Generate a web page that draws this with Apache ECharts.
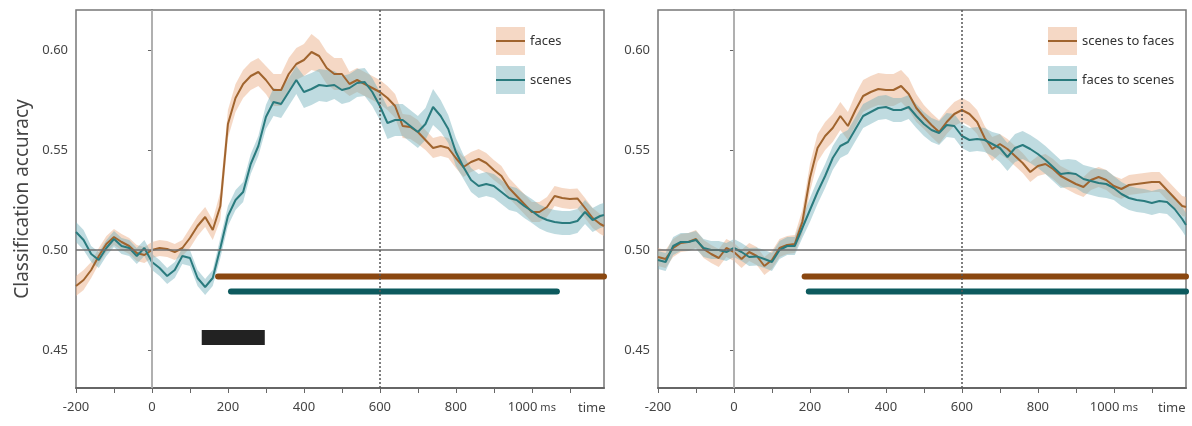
<!DOCTYPE html>
<html>
<head>
<meta charset="utf-8">
<script src="https://cdn.jsdelivr.net/npm/echarts@6/dist/echarts.min.js"></script>
<style>
  html, body { margin: 0; padding: 0; background: #fff; }
  #chart { width: 1192px; height: 426px; }
</style>
</head>
<body>
<div id="chart"></div>
<script>
// time points (ms)
var times = [
  -200, -180, -160, -140, -120, -100, -80, -60, -40, -20,
  0, 20, 40, 60, 80, 100, 120, 140, 160, 180,
  200, 220, 240, 260, 280, 300, 320, 340, 360, 380,
  400, 420, 440, 460, 480, 500, 520, 540, 560, 580,
  600, 620, 640, 660, 680, 700, 720, 740, 760, 780,
  800, 820, 840, 860, 880, 900, 920, 940, 960, 980,
  1000, 1020, 1040, 1060, 1080, 1100, 1120, 1140, 1160, 1180,
  1190
];

// left panel: faces / scenes
var facesMean = [
  .482, .485, .490, .497, .503, .5065, .504, .502, .4985, .4975,
  .500, .501, .5005, .499, .501, .506, .512, .5165, .510, .522,
  .563, .576, .583, .587, .589, .585, .580, .580, .588, .593,
  .595, .599, .597, .591, .588, .588, .583, .585, .583, .581,
  .579, .576, .572, .562, .5615, .559, .555, .551, .552, .551,
  .546, .5415, .544, .5455, .5435, .540, .537, .531, .527, .523,
  .519, .519, .5215, .527, .526, .5255, .5258, .521, .516, .513,
  .512
];
var facesSem = [
  .005, .005, .004, .004, .004, .004, .004, .004, .004, .004,
  .004, .004, .004, .004, .004, .005, .005, .005, .005, .007,
  .007, .007, .007, .007, .007, .007, .008, .008, .008, .008,
  .008, .009, .008, .008, .008, .008, .006, .006, .006, .006,
  .006, .006, .006, .006, .006, .006, .005, .005, .005, .005,
  .005, .005, .005, .005, .005, .005, .005, .005, .005, .005,
  .005, .005, .005, .005, .005, .005, .005, .005, .005, .005,
  .005
];
var scenesMean = [
  .509, .505, .498, .495, .501, .5055, .502, .501, .497, .501,
  .494, .491, .487, .490, .497, .496, .486, .4815, .486, .501,
  .517, .525, .529, .543, .552, .5665, .574, .573, .579, .585,
  .579, .5805, .5825, .582, .5825, .580, .581, .5835, .584, .579,
  .572, .5635, .565, .565, .562, .559, .563, .5715, .567, .5605,
  .549, .5415, .535, .532, .533, .532, .529, .526, .525, .522,
  .5195, .5167, .515, .514, .5135, .5135, .5145, .519, .515, .517,
  .5175
];
var scenesSem = [
  .005, .005, .004, .004, .004, .004, .004, .004, .004, .004,
  .004, .004, .004, .004, .004, .004, .004, .004, .004, .005,
  .005, .005, .005, .005, .005, .006, .007, .007, .007, .007,
  .008, .008, .008, .008, .007, .007, .007, .007, .007, .007,
  .007, .008, .008, .008, .008, .008, .008, .009, .008, .007,
  .007, .006, .006, .006, .006, .006, .006, .006, .006, .006,
  .006, .006, .006, .006, .006, .006, .006, .006, .006, .006,
  .006
];

// right panel: scenes to faces / faces to scenes
var s2fMean = [
  .4965, .4955, .501, .5035, .504, .5055, .5005, .498, .496, .501,
  .499, .4955, .499, .497, .492, .495, .501, .5025, .503, .514,
  .536, .551, .557, .561, .567, .562, .570, .577, .579, .5805,
  .580, .580, .582, .578, .571, .5665, .5625, .559, .564, .568,
  .570, .568, .564, .556, .5505, .553, .5505, .547, .5435, .539,
  .542, .543, .5405, .537, .535, .533, .5315, .535, .5365, .535,
  .532, .5305, .5325, .533, .5335, .534, .534, .530, .526, .522,
  .5215
];
var s2fSem = [
  .0045, .0045, .0045, .0045, .0045, .0045, .0045, .0045, .0045, .0045,
  .0045, .0045, .0045, .0045, .0045, .0045, .0045, .0045, .0045, .006,
  .007, .007, .007, .007, .007, .007, .008, .008, .008, .008,
  .008, .008, .008, .008, .007, .006, .006, .006, .006, .006,
  .006, .006, .006, .006, .006, .005, .005, .005, .005, .005,
  .005, .005, .005, .005, .005, .005, .005, .005, .005, .005,
  .005, .005, .005, .005, .005, .005, .005, .005, .005, .005,
  .005
];
var f2sMean = [
  .495, .494, .502, .504, .504, .505, .501, .500, .500, .499,
  .501, .499, .4965, .4968, .4955, .494, .500, .502, .502, .511,
  .520, .529, .537, .546, .552, .554, .5605, .567, .569, .571,
  .5715, .570, .570, .5715, .567, .563, .560, .5585, .5625, .562,
  .557, .555, .5555, .555, .553, .551, .5465, .551, .5525, .5505,
  .548, .545, .5415, .538, .5385, .538, .5355, .5345, .5335, .533,
  .531, .528, .526, .525, .5245, .5235, .5245, .524, .5205, .5155,
  .5125
];
var f2sSem = [
  .0045, .0045, .0045, .0045, .0045, .0045, .0045, .0045, .0045, .0045,
  .0045, .0045, .0045, .0045, .0045, .0045, .0045, .0045, .0045, .005,
  .006, .006, .006, .006, .006, .006, .006, .006, .006, .006,
  .006, .006, .006, .006, .006, .006, .006, .006, .006, .006,
  .006, .006, .006, .006, .006, .007, .007, .007, .007, .007,
  .007, .007, .007, .007, .007, .007, .007, .007, .007, .007,
  .006, .006, .006, .006, .006, .006, .006, .006, .006, .006,
  .006
];

// significant clusters [start, end] in ms
var sigFaces = [174, 1190];
var sigScenes = [208, 1066];
var sigEarly = [131, 297];
var sigS2F = [186, 1190];
var sigF2S = [197, 1190];

// axis ticks
var yTicks = [0.45, 0.50, 0.55, 0.60];
var xTicks = [-200, -100, 0, 100, 200, 300, 400, 500, 600, 700, 800, 900, 1000, 1100];
var xLabels = [-200, 0, 200, 400, 600, 800, 1000];

var BROWN = '#a0642e', BROWN_BAND = 'rgba(236,178,140,0.5)', BROWN_BAR = '#8a4710';
var TEAL = '#2a7b7e', TEAL_BAND = 'rgba(112,176,186,0.45)', TEAL_BAR = '#0d5a5e';
var FONT = 'Noto Sans';
// legend line icon: thin bar in the middle of a 29x28 box (tiny corner points keep the box size)
var LINE_ICON = 'path://M0,0L0.01,0L0,0.01ZM0,13L29,13L29,15L0,15ZM29,28L28.99,28L29,27.99Z';

var chart = echarts.init(document.getElementById('chart'));

function band(g, name, mean, sem, color) {
  return {
    type: 'custom', name: name, xAxisIndex: g, yAxisIndex: g, z: 1, silent: true, clip: true,
    data: times.map(function (t, i) { return [t, mean[i] - sem[i], mean[i] + sem[i]]; }),
    encode: { x: 0, y: [1, 2] },
    renderItem: function (params, api) {
      if (params.dataIndex !== 0) return null;
      var pts = [];
      for (var i = 0; i < times.length; i++) pts.push(api.coord([times[i], mean[i] + sem[i]]));
      for (var j = times.length - 1; j >= 0; j--) pts.push(api.coord([times[j], mean[j] - sem[j]]));
      return { type: 'polygon', shape: { points: pts }, style: { fill: color } };
    }
  };
}

function meanLine(g, name, mean, color) {
  return {
    type: 'line', name: name, xAxisIndex: g, yAxisIndex: g, z: 3, symbol: 'none', silent: true,
    data: times.map(function (t, i) { return [t, mean[i]]; }),
    lineStyle: { color: color, width: 2 }, itemStyle: { color: color }
  };
}

function sigBar(g, range, level, color, width, cap) {
  return {
    type: 'line', xAxisIndex: g, yAxisIndex: g, z: 4, symbol: 'none', silent: true,
    data: [[range[0], level], [range[1], level]],
    lineStyle: { color: color, width: width, cap: cap }
  };
}

function refLines(g) {
  return {
    type: 'line', xAxisIndex: g, yAxisIndex: g, data: [], silent: true, z: 2,
    markLine: {
      silent: true, symbol: ['none', 'none'], label: { show: false },
      data: [
        { yAxis: 0.5, lineStyle: { color: '#6e6e6e', width: 1.5, type: 'solid' } },
        { xAxis: 0, lineStyle: { color: '#bdbdbd', width: 1.5, type: 'solid' } },
        { xAxis: 600, lineStyle: { color: '#555', width: 1.5, type: [2, 2] } }
      ]
    }
  };
}

function xAxis(g) {
  return {
    type: 'value', gridIndex: g, min: -200, max: 1190,
    axisLine: { show: true, lineStyle: { color: '#666', width: 2 } },
    axisTick: { show: true, customValues: xTicks, length: 5, lineStyle: { color: '#666', width: 1 } },
    axisLabel: {
      customValues: xLabels, margin: 13, color: '#444', fontSize: 13, fontFamily: FONT,
      formatter: function (v) { return v === 1000 ? '1000{u| ms}' : String(v); },
      rich: { u: { fontSize: 11, color: '#444', fontFamily: FONT } }
    },
    splitLine: { show: false }
  };
}

function yAxis(g, name) {
  return {
    type: 'value', gridIndex: g, min: 0.431, max: 0.62,
    name: name, nameLocation: 'middle', nameGap: 44,
    nameTextStyle: { fontSize: 19, color: '#444', fontFamily: FONT },
    axisLine: { show: true, lineStyle: { color: '#666', width: 1.5 } },
    axisTick: { show: true, customValues: yTicks, length: 4, lineStyle: { color: '#666' } },
    axisLabel: {
      customValues: yTicks, margin: 8, color: '#444', fontSize: 13, fontFamily: FONT,
      formatter: function (v) { return v.toFixed(2); }
    },
    splitLine: { show: false }
  };
}

function legendPair(left, names, bands) {
  var common = {
    orient: 'vertical', left: left, top: 27, itemWidth: 29, itemHeight: 28, itemGap: 11,
    selectedMode: false, padding: 0
  };
  return [
    // shaded boxes + text
    Object.assign({}, common, {
      icon: 'rect',
      textStyle: { color: '#333', fontSize: 13, fontFamily: FONT },
      formatter: function (n) { return n === bands[0] ? names[0] : names[1]; },
      data: [
        { name: bands[0], itemStyle: { color: BROWN_BAND, opacity: 1, borderWidth: 0 } },
        { name: bands[1], itemStyle: { color: TEAL_BAND, opacity: 1, borderWidth: 0 } }
      ]
    }),
    // line through the middle of each box
    Object.assign({}, common, {
      icon: LINE_ICON,
      formatter: function () { return ''; },
      data: [
        { name: names[0], itemStyle: { color: BROWN, opacity: 1, borderWidth: 0 } },
        { name: names[1], itemStyle: { color: TEAL, opacity: 1, borderWidth: 0 } }
      ]
    })
  ];
}

var gridBox = { show: true, borderColor: '#777', borderWidth: 1.5, containLabel: false };

chart.setOption({
  animation: false,
  backgroundColor: '#fff',
  grid: [
    Object.assign({ left: 76, right: 588, top: 10, bottom: 38 }, gridBox),
    Object.assign({ left: 658, right: 6, top: 10, bottom: 38 }, gridBox)
  ],
  xAxis: [xAxis(0), xAxis(1)],
  yAxis: [yAxis(0, 'Classification accuracy'), yAxis(1, '')],
  legend: legendPair(496, ['faces', 'scenes'], ['faces band', 'scenes band'])
    .concat(legendPair(1048, ['scenes to faces', 'faces to scenes'], ['s2f band', 'f2s band'])),
  graphic: [
    { type: 'text', left: 578, top: 402, style: { text: 'time', fill: '#444', fontSize: 13, fontFamily: FONT } },
    { type: 'text', left: 1158, top: 402, style: { text: 'time', fill: '#444', fontSize: 13, fontFamily: FONT } }
  ],
  series: [
    refLines(0),
    band(0, 'faces band', facesMean, facesSem, BROWN_BAND),
    band(0, 'scenes band', scenesMean, scenesSem, TEAL_BAND),
    meanLine(0, 'faces', facesMean, BROWN),
    meanLine(0, 'scenes', scenesMean, TEAL),
    sigBar(0, sigFaces, 0.4867, BROWN_BAR, 6, 'round'),
    sigBar(0, sigScenes, 0.4793, TEAL_BAR, 6, 'round'),
    sigBar(0, sigEarly, 0.4563, '#222', 15, 'butt'),

    refLines(1),
    band(1, 's2f band', s2fMean, s2fSem, BROWN_BAND),
    band(1, 'f2s band', f2sMean, f2sSem, TEAL_BAND),
    meanLine(1, 'scenes to faces', s2fMean, BROWN),
    meanLine(1, 'faces to scenes', f2sMean, TEAL),
    sigBar(1, sigS2F, 0.4867, BROWN_BAR, 6, 'round'),
    sigBar(1, sigF2S, 0.4793, TEAL_BAR, 6, 'round')
  ]
});
</script>
</body>
</html>
